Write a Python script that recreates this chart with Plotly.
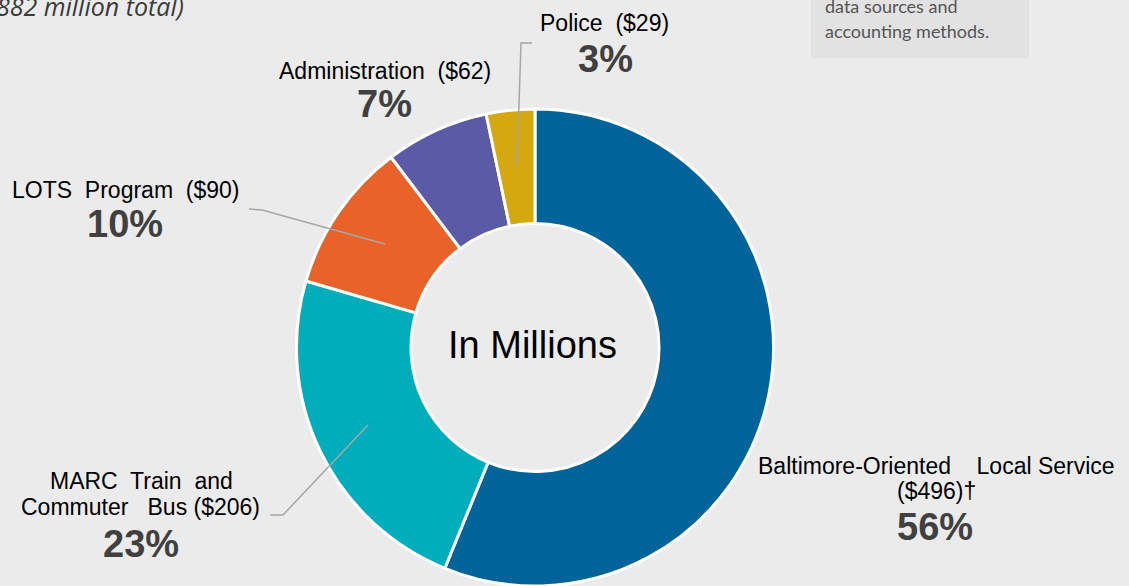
import plotly.graph_objects as go

W, H = 1129, 586

# ---- data ----
categories = ["Baltimore-Oriented Local Service", "MARC Train and Commuter Bus",
              "LOTS Program", "Administration", "Police"]
values = [496, 206, 90, 62, 29]
percent_labels = ["56%", "23%", "10%", "7%", "3%"]
colors = ["#00649A", "#00AEBB", "#E8622A", "#5B5AA6", "#D4A80E"]


def px(x):
    return x / W


def py(y):
    return 1 - y / H


# pie geometry (pixels)
cx, cy, r = 535, 348, 239

fig = go.Figure()
fig.add_trace(go.Pie(
    labels=categories, values=values, sort=False, direction="clockwise",
    rotation=0, hole=0.52, textinfo="none", hoverinfo="skip",
    marker=dict(colors=colors, line=dict(color="white", width=3)),
    domain=dict(x=[px(cx - r), px(cx + r)], y=[max(0, py(cy + r)), py(cy - r)]),
    showlegend=False,
))

NAME_FONT = dict(family="Liberation Sans, Arial", size=23, color="#000000")
PCT_FONT = dict(family="Liberation Sans, Arial", size=38, color="#404040")

annotations = []


def ann(text, x, y, font, xanchor="center", yanchor="middle"):
    annotations.append(dict(text=text, x=px(x), y=py(y), xref="paper", yref="paper",
                            xanchor=xanchor, yanchor=yanchor, showarrow=False, font=font))


NB = "\u00a0"
# slice labels
ann(f"Police{NB} ($29)", 604, 23, NAME_FONT)
ann(f"<b>{percent_labels[4]}</b>", 605, 59, PCT_FONT)
ann(f"Administration{NB} ($62)", 385, 71, NAME_FONT)
ann(f"<b>{percent_labels[3]}</b>", 384, 104, PCT_FONT)
ann(f"LOTS{NB} Program{NB} ($90)", 126, 190, NAME_FONT)
ann(f"<b>{percent_labels[2]}</b>", 125, 224, PCT_FONT)
ann(f"MARC{NB} Train{NB} and", 141, 481, NAME_FONT)
ann(f"Commuter{NB}{NB} Bus ($206)", 140, 507, NAME_FONT)
ann(f"<b>{percent_labels[1]}</b>", 141, 544, PCT_FONT)
ann(f"Baltimore-Oriented{NB}{NB}{NB} Local Service", 936, 466, NAME_FONT)
ann("($496)†", 936, 491, NAME_FONT)
ann(f"<b>{percent_labels[0]}</b>", 935, 527, PCT_FONT)

# center text
ann("In Millions", 532, 345, dict(family="Liberation Sans, Arial", size=38, color="#000000"))

# top-left (cropped) subtitle
ann("<i>($882 million total)</i>", 186, 6,
    dict(family="Open Sans, Lato", size=25, color="#3A3A3A"), xanchor="right")

# gray note box text
BOX_FONT = dict(family="Lato, Open Sans", size=18, color="#555555")
ann("data sources and", 823, 6, BOX_FONT, xanchor="left")
ann("accounting methods.", 823, 31, BOX_FONT, xanchor="left")

shapes = [
    dict(type="rect", xref="paper", yref="paper", x0=px(811), x1=px(1029), y0=py(58), y1=py(-5),
         fillcolor="#E2E2E2", line=dict(width=0), layer="below"),
]


def leader(points):
    d = "M " + " L ".join(f"{px(x)},{py(y)}" for x, y in points)
    shapes.append(dict(type="path", xref="paper", yref="paper", path=d,
                       line=dict(color="#A6A6A6", width=1.5)))


leader([(532, 43), (521, 43), (517, 165)])
leader([(249, 209), (262, 210), (385, 244)])
leader([(270, 515), (283, 515), (368, 425)])

fig.update_layout(
    width=W, height=H,
    margin=dict(l=0, r=0, t=0, b=0),
    paper_bgcolor="#EBEBEB", plot_bgcolor="#EBEBEB",
    annotations=annotations, shapes=shapes,
)

fig.write_html(
    "out.html",
    config={"displayModeBar": False},
    post_script="document.body.style.margin='0px';document.body.style.overflow='hidden';"
                "document.documentElement.style.overflow='hidden';",
)
